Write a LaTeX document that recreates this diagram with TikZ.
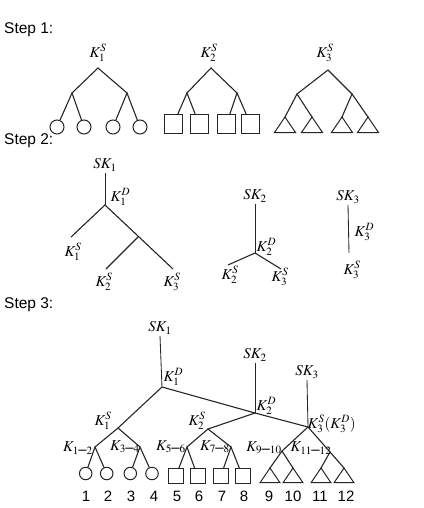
\documentclass[tikz,border=0pt]{standalone}
\usepackage{mathptmx}
\usepackage[no-math]{fontspec}
\setmainfont{Liberation Sans}
\begin{document}
\begin{tikzpicture}[x=1pt,y=-1pt,
  edge/.style={line width=1.1pt, black!85},
  vedge/.style={line width=0.85pt, black!85},
  lab/.style={font=\fontsize{15}{17}\selectfont, inner sep=1.5pt},
  steplab/.style={font=\fontsize{15.5}{18}\selectfont, anchor=west, inner sep=0pt},
  num/.style={font=\fontsize{15}{18}\selectfont, inner sep=0pt},
  bigcirc/.style={draw, black!85, line width=1pt, circle, minimum size=14pt, inner sep=0pt},
  bigsq/.style={draw, black!85, line width=1pt, rectangle, minimum size=18pt, inner sep=0pt},
  smallcirc/.style={draw, black!85, line width=1pt, circle, minimum size=12.5pt, inner sep=0pt},
  smallsq/.style={draw, black!85, line width=1pt, rectangle, minimum size=15pt, inner sep=0pt},
  tri/.pic={\draw[black!85, line width=1pt, line join=miter] (0,0) -- (-10.5,15.5) -- (10.5,15.5) -- cycle;}
]
\useasboundingbox (0,0) rectangle (423,508);

% ---------------- Step 1 ----------------
\node[steplab] (st1) at (4,30) {Step 1:};
\node[lab] (s1k1) at (98,53) {$K_1^S$};
\node[lab] (s1k2) at (209,53) {$K_2^S$};
\node[lab] (s1k3) at (325,53) {$K_3^S$};

\coordinate (a1) at (98,68);
\coordinate (m11) at (72,93);
\coordinate (m12) at (127,93);
\node[bigcirc] (c11) at (57,127) {};
\node[bigcirc] (c12) at (84,127) {};
\node[bigcirc] (c13) at (113,127) {};
\node[bigcirc] (c14) at (140,127) {};
\draw[edge] (m11) -- (a1) -- (m12);
\draw[edge] (c11) -- (m11) -- (c12);
\draw[edge] (c13) -- (m12) -- (c14);

\coordinate (a2) at (211,68);
\coordinate (m21) at (187,93);
\coordinate (m22) at (237,93);
\node[bigsq] (s21) at (173.5,124) {};
\node[bigsq] (s22) at (199,124) {};
\node[bigsq] (s23) at (226.5,124) {};
\node[bigsq] (s24) at (250.5,124) {};
\draw[edge] (m21) -- (a2) -- (m22);
\draw[edge] (s21) -- (m21) -- (s22);
\draw[edge] (s23) -- (m22) -- (s24);

\coordinate (a3) at (328,70);
\coordinate (m31) at (297,94);
\coordinate (m32) at (352,94);
\coordinate (t31) at (285,117);
\coordinate (t32) at (312,117);
\coordinate (t33) at (342,117);
\coordinate (t34) at (368,117);
\pic at (t31) {tri};
\pic at (t32) {tri};
\pic at (t33) {tri};
\pic at (t34) {tri};
\draw[edge] (m31) -- (a3) -- (m32);
\draw[edge] (t31) -- (m31) -- (t32);
\draw[edge] (t33) -- (m32) -- (t34);

% ---------------- Step 2 ----------------
\node[steplab] (st2) at (4,141) {Step 2:};

\node[lab] (b1sk) at (105,165) {$SK_1$};
\coordinate (d1) at (105,205);
\coordinate (e1) at (71,237);
\coordinate (f1) at (138,237);
\coordinate (e2) at (173,269);
\coordinate (e3) at (106,269);
\draw[vedge] (b1sk.south) -- (d1);
\draw[edge] (e1) -- (d1) -- (e2);
\draw[edge] (f1) -- (e3);
\node[lab, anchor=west] (b1kd) at (109,197) {$K_1^D$};
\node[lab] (b1k1) at (73,252) {$K_1^S$};
\node[lab] (b1k2) at (104,282) {$K_2^S$};
\node[lab] (b1k3) at (172,282) {$K_3^S$};

\node[lab] (b2sk) at (255,196) {$SK_2$};
\coordinate (d2) at (255,253);
\coordinate (g1) at (228,265);
\coordinate (g2) at (281,269);
\draw[vedge] (b2sk.south) -- (d2);
\draw[edge] (g1) -- (d2) -- (g2);
\node[lab, anchor=west] (b2kd) at (255,247) {$K_2^D$};
\node[lab] (b2k2) at (230,275) {$K_2^S$};
\node[lab] (b2k3) at (280,277) {$K_3^S$};

\node[lab] (b3sk) at (348,197) {$SK_3$};
\coordinate (h1) at (349,253);
\draw[vedge] (b3sk.south) -- (h1);
\node[lab, anchor=west] (b3kd) at (353,232) {$K_3^D$};
\node[lab] (b3k3) at (352,270) {$K_3^S$};

% ---------------- Step 3 ----------------
\node[steplab] (st3) at (4,305) {Step 3:};

\node[lab] (csk1) at (160,328) {$SK_1$};
\node[lab] (csk2) at (255,355) {$SK_2$};
\node[lab] (csk3) at (307,372) {$SK_3$};
\coordinate (r) at (162,387);
\coordinate (q2) at (255,413);
\coordinate (q3) at (308,427);
\draw[vedge] (csk1.south) -- (r);
\draw[vedge] (csk2.south) -- (q2);
\draw[vedge] (csk3.south) -- (q3);
\draw[edge] (r) -- (q2) -- (q3);
\node[lab, anchor=west] (ckd1) at (162,377) {$K_1^D$};
\node[lab, anchor=west] (ckd2) at (255,406) {$K_2^D$};
\node[lab, anchor=west] (ckd3) at (306,424) {$K_3^S(K_3^D)$};

\coordinate (p1) at (118,428);
\coordinate (p2) at (208,429);
\draw[edge] (r) -- (p1);
\draw[edge] (q2) -- (p2);
\node[lab] (ck1) at (103,421) {$K_1^S$};
\node[lab] (ck2) at (197,421) {$K_2^S$};

\coordinate (n12) at (95,447);
\coordinate (n34) at (140,447);
\coordinate (n56) at (187,447);
\coordinate (n78) at (231,447);
\coordinate (n910) at (282,451);
\coordinate (n1112) at (330,452);
\draw[edge] (n12) -- (p1) -- (n34);
\draw[edge] (n56) -- (p2) -- (n78);
\draw[edge] (n910) -- (q3) -- (n1112);

\node[smallcirc] (l1) at (85.7,473.5) {};
\node[smallcirc] (l2) at (106.7,473.5) {};
\node[smallcirc] (l3) at (130.3,473.5) {};
\node[smallcirc] (l4) at (152,473.5) {};
\node[smallsq] (l5) at (175.8,476) {};
\node[smallsq] (l6) at (197.5,476) {};
\node[smallsq] (l7) at (220.8,476) {};
\node[smallsq] (l8) at (242.5,476) {};
\coordinate (l9) at (270,468);
\coordinate (l10) at (293,468);
\coordinate (l11) at (321,468);
\coordinate (l12) at (344,468);
\pic[scale=0.95] at (l9) {tri};
\pic[scale=0.95] at (l10) {tri};
\pic[scale=0.95] at (l11) {tri};
\pic[scale=0.95] at (l12) {tri};

\draw[edge] (l1) -- (n12) -- (l2);
\draw[edge] (l3) -- (n34) -- (l4);
\draw[edge] (l5) -- (n56) -- (l6);
\draw[edge] (l7) -- (n78) -- (l8);
\draw[edge] (l9) -- (n910) -- (l10);
\draw[edge] (l11) -- (n1112) -- (l12);

\node[lab] (ck12) at (78,448) {$K_{1\mbox{--}2}$};
\node[lab] (ck34) at (125,447) {$K_{3\mbox{--}4}$};
\node[lab] (ck56) at (171,447) {$K_{5\mbox{--}6}$};
\node[lab] (ck78) at (215,447) {$K_{7\mbox{--}8}$};
\node[lab] (ck910) at (264,448) {$K_{9\mbox{--}10}$};
\node[lab] (ck1112) at (311,448) {$K_{11\mbox{--}12}$};

\node[num] (x1) at (86,496) {1};
\node[num] (x2) at (108,496) {2};
\node[num] (x3) at (131,496) {3};
\node[num] (x4) at (154,496) {4};
\node[num] (x5) at (177,496) {5};
\node[num] (x6) at (199,496) {6};
\node[num] (x7) at (222,496) {7};
\node[num] (x8) at (244,496) {8};
\node[num] (x9) at (269,496) {9};
\node[num] (x10) at (293,496) {10};
\node[num] (x11) at (320,496) {11};
\node[num] (x12) at (346,496) {12};
\end{tikzpicture}
\end{document}
